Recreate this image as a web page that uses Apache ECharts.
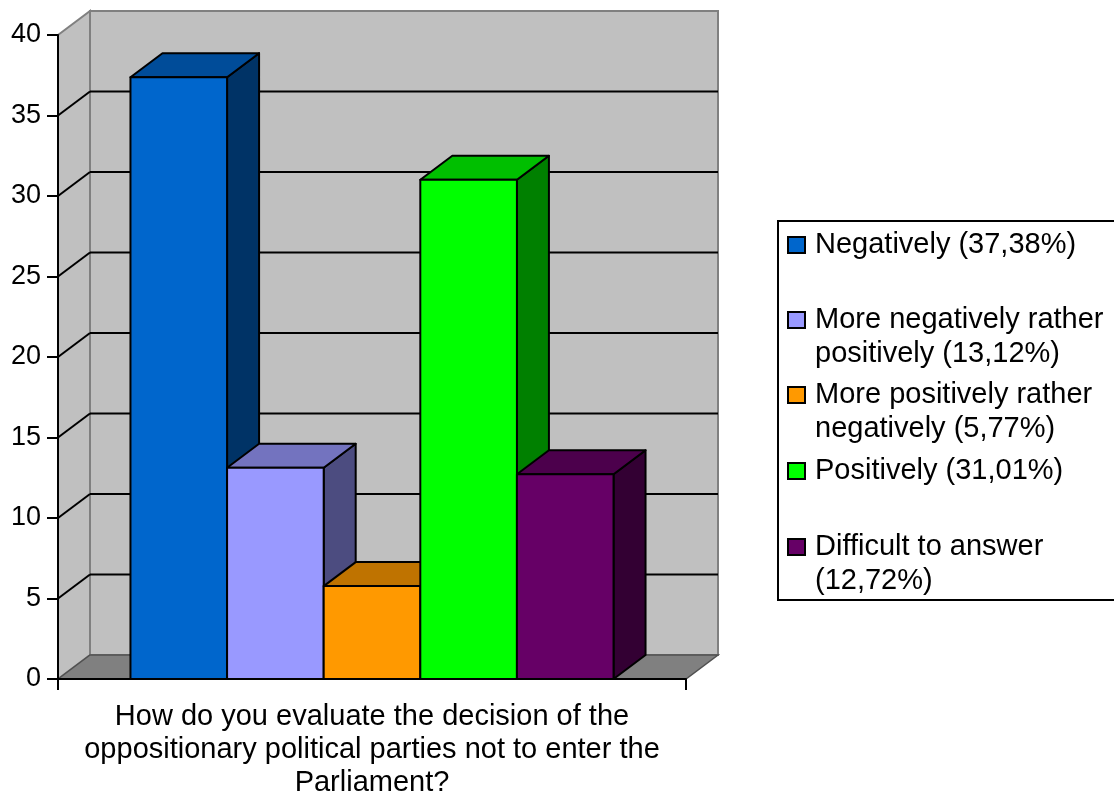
<!DOCTYPE html>
<html>
<head>
<meta charset="utf-8">
<script src="https://cdn.jsdelivr.net/npm/echarts@6/dist/echarts.min.js"></script>
<style>html,body{margin:0;padding:0;background:#fff;}#c{width:1114px;height:799px;}</style>
</head>
<body>
<div id="c"></div>
<script>
// ---- data ----
const categories = ['Negatively (37,38%)', 'More negatively rather positively (13,12%)', 'More positively rather negatively (5,77%)', 'Positively (31,01%)', 'Difficult to answer (12,72%)'];
const legendLabels = ['Negatively (37,38%)', 'More negatively rather\npositively (13,12%)', 'More positively rather\nnegatively (5,77%)', 'Positively (31,01%)', 'Difficult to answer\n(12,72%)'];
const values = [37.38, 13.12, 5.77, 31.01, 12.72];
const yTicks = [0, 5, 10, 15, 20, 25, 30, 35, 40];
const xCategory = ['How do you evaluate the decision of the\noppositionary political parties not to enter the\nParliament?'];

// ---- style ----
const frontColors = ['#0066CC', '#9999FF', '#FF9900', '#00FF00', '#660066'];
const topColors = ['#004C99', '#7373BF', '#BF7300', '#00BF00', '#4C004C'];
const sideColors = ['#003366', '#4C4C80', '#804C00', '#008000', '#330033'];
const FONT = '"Liberation Sans", Arial, sans-serif';
const DX = 32, DY = -24;
const N = values.length;
const LH = 34;

const chart = echarts.init(document.getElementById('c'));

function wallsRender(params, api) {
  const band = api.size([1, 0])[0];
  const c0 = api.coord([0, yTicks[0]]);
  const cTop = api.coord([0, yTicks[yTicks.length - 1]]);
  const L = c0[0] - band / 2, R = c0[0] + band / 2;
  const B = c0[1], T = cTop[1];
  const children = [];
  children.push({ type: 'rect', shape: { x: L + DX, y: T + DY, width: R - L, height: B - T },
    style: { fill: '#C0C0C0', stroke: '#808080', lineWidth: 2 } });
  children.push({ type: 'polygon', shape: { points: [[L, T], [L + DX, T + DY], [L + DX, B + DY], [L, B]] },
    style: { fill: '#C0C0C0', stroke: '#808080', lineWidth: 2 } });
  children.push({ type: 'polygon', shape: { points: [[L, B], [L + DX, B + DY], [R + DX, B + DY], [R, B]] },
    style: { fill: '#808080', stroke: '#505050', lineWidth: 1.5 } });
  for (let k = 1; k < yTicks.length - 1; k++) {
    const y = api.coord([0, yTicks[k]])[1];
    children.push({ type: 'line', shape: { x1: L + DX, y1: y + DY, x2: R + DX, y2: y + DY }, style: { stroke: '#000', lineWidth: 2 } });
    children.push({ type: 'line', shape: { x1: L, y1: y, x2: L + DX, y2: y + DY }, style: { stroke: '#000', lineWidth: 2 } });
  }
  return { type: 'group', children: children };
}

function barRender(i) {
  return function (params, api) {
    const band = api.size([1, 0])[0];
    const c = api.coord([api.value(0), api.value(1)]);
    const base = api.coord([api.value(0), 0]);
    const bw = band / (N + 1.5);
    const x0 = c[0] - band / 2 + 0.75 * bw + i * bw;
    const x1 = x0 + bw;
    const yt = c[1], yb = base[1];
    const st = { stroke: '#000', lineWidth: 2, lineJoin: 'round' };
    return {
      type: 'group',
      children: [
        { type: 'polygon', shape: { points: [[x1, yt], [x1 + DX, yt + DY], [x1 + DX, yb + DY], [x1, yb]] },
          style: Object.assign({ fill: sideColors[i] }, st) },
        { type: 'polygon', shape: { points: [[x0, yt], [x0 + DX, yt + DY], [x1 + DX, yt + DY], [x1, yt]] },
          style: Object.assign({ fill: topColors[i] }, st) },
        { type: 'rect', shape: { x: x0, y: yt, width: bw, height: yb - yt },
          style: Object.assign({ fill: frontColors[i] }, st) }
      ]
    };
  };
}

const series = [{
  type: 'custom', name: '__walls', z: 1, clip: false, silent: true,
  renderItem: wallsRender, data: [[0, 0]], encode: { x: 0, y: 1 }
}];
categories.forEach((name, i) => {
  series.push({
    type: 'custom', name: name, z: 2, clip: false,
    itemStyle: { color: frontColors[i] },
    renderItem: barRender(i),
    data: [[0, values[i]]], encode: { x: 0, y: 1 }
  });
});

// icon centres of legend entries (layout)
const legendCenters = [245, 320, 395, 471, 547];
const ICON_H = 16;
const legends = categories.map((name, i) => {
  const two = legendLabels[i].indexOf('\n') >= 0;
  // two-line entries: prepend an empty line so the first text line sits level with the icon
  const text = two ? '\n' + legendLabels[i] : legendLabels[i];
  const nLines = text.split('\n').length;
  const boxTopOffset = Math.max(0, (nLines * LH) / 2 - ICON_H / 2);
  return {
    data: [name], left: 787, top: legendCenters[i] - ICON_H / 2 - boxTopOffset, padding: 0,
    itemWidth: 17, itemHeight: ICON_H, icon: 'rect', selectedMode: false,
    itemStyle: { borderColor: '#000', borderWidth: 2 },
    formatter: () => text,
    textStyle: { fontSize: 29, fontFamily: FONT, color: '#000', lineHeight: LH, padding: [0, 0, 0, 5] }
  };
});

chart.setOption({
  backgroundColor: '#fff',
  animation: false,
  grid: { left: 58, right: 428, top: 35, bottom: 120, containLabel: false, outerBoundsMode: 'none' },
  xAxis: {
    type: 'category', data: [''], z: 10,
    name: xCategory[0], nameLocation: 'middle', nameGap: 21,
    nameTextStyle: { fontSize: 29, fontFamily: FONT, color: '#000', lineHeight: 33, verticalAlign: 'top' },
    axisLine: { lineStyle: { color: '#000', width: 2 } },
    axisTick: { show: true, length: 11, lineStyle: { color: '#000', width: 2 } },
    axisLabel: { show: false }, splitLine: { show: false }
  },
  yAxis: {
    type: 'value', min: yTicks[0], max: yTicks[yTicks.length - 1], interval: yTicks[1] - yTicks[0], z: 10,
    axisLine: { show: true, lineStyle: { color: '#000', width: 2 } },
    axisTick: { show: true, length: 11, lineStyle: { color: '#000', width: 2 } },
    axisLabel: { fontSize: 27, fontFamily: FONT, color: '#000', margin: 17 },
    splitLine: { show: false }
  },
  legend: legends,
  graphic: [{ type: 'rect', z: 0, shape: { x: 778, y: 221, width: 400, height: 379 },
    style: { fill: '#fff', stroke: '#000', lineWidth: 2 } }],
  series: series
});
</script>
</body>
</html>
